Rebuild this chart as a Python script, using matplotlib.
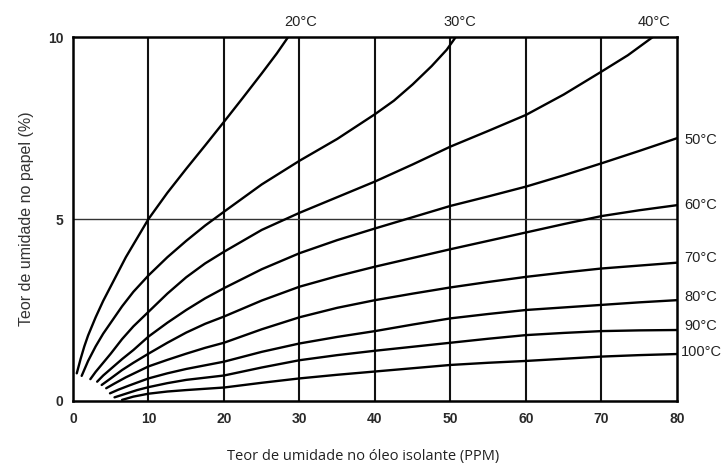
import matplotlib
matplotlib.use("Agg")
import matplotlib.pyplot as plt

# moisture equilibrium curves: oil water content (ppm) vs paper water content (%)
temps = ["20°C", "30°C", "40°C", "50°C", "60°C", "70°C", "80°C", "90°C", "100°C"]

ppm_20 = [0.5, 1, 1.5, 2, 3, 4, 5, 6, 7, 8, 9, 10, 12.5, 15, 17.5, 20, 22.5, 25, 27, 28.5]
pct_20 = [0.76, 1.15, 1.5, 1.8, 2.3, 2.75, 3.15, 3.55, 3.95, 4.3, 4.65, 5.0,
          5.72, 6.38, 7.02, 7.67, 8.33, 9.0, 9.55, 10]

ppm_30 = [1.15, 2, 3, 4, 5, 6.5, 8, 10, 12.5, 15, 17.5, 20, 25, 30, 35, 40, 42.5,
          45, 47.5, 49.5, 50.7]
pct_30 = [0.69, 1.1, 1.5, 1.85, 2.15, 2.6, 3.0, 3.45, 3.95, 4.4, 4.82, 5.2,
          5.95, 6.6, 7.2, 7.88, 8.25, 8.7, 9.2, 9.65, 10]

ppm_40 = [2.3, 3, 4, 5, 6.5, 8, 10, 12.5, 15, 17.5, 20, 25, 30, 35, 40, 45, 50,
          55, 60, 65, 70, 73.5, 76.8]
pct_40 = [0.6, 0.8, 1.05, 1.3, 1.7, 2.05, 2.45, 2.95, 3.4, 3.78, 4.1, 4.7, 5.17,
          5.6, 6.03, 6.5, 6.99, 7.42, 7.86, 8.42, 9.05, 9.5, 10]

ppm_50 = [3.2, 4, 5, 6.5, 8, 10, 12.5, 15, 17.5, 20, 25, 30, 35, 40, 45, 50, 55,
          60, 65, 70, 75, 80]
pct_50 = [0.53, 0.7, 0.88, 1.15, 1.4, 1.77, 2.15, 2.5, 2.82, 3.1, 3.62, 4.06,
          4.42, 4.74, 5.05, 5.36, 5.62, 5.89, 6.2, 6.53, 6.87, 7.22]

ppm_60 = [3.8, 5, 6.5, 8, 10, 12.5, 15, 17.5, 20, 25, 30, 35, 40, 45, 50, 55, 60,
          65, 70, 75, 80]
pct_60 = [0.44, 0.62, 0.85, 1.05, 1.3, 1.6, 1.88, 2.12, 2.32, 2.76, 3.14, 3.43,
          3.69, 3.93, 4.17, 4.4, 4.63, 4.86, 5.08, 5.24, 5.38]

ppm_70 = [4.4, 5.5, 7, 8.5, 10, 12.5, 15, 17.5, 20, 25, 30, 35, 40, 45, 50, 55,
          60, 65, 70, 75, 80]
pct_70 = [0.35, 0.48, 0.65, 0.8, 0.95, 1.13, 1.3, 1.46, 1.6, 1.97, 2.3, 2.56,
          2.77, 2.95, 3.12, 3.27, 3.41, 3.53, 3.64, 3.72, 3.8]

ppm_80 = [4.9, 6, 7.5, 10, 12.5, 15, 17.5, 20, 25, 30, 35, 40, 45, 50, 55, 60,
          65, 70, 75, 80]
pct_80 = [0.21, 0.31, 0.43, 0.62, 0.76, 0.88, 0.98, 1.08, 1.35, 1.58, 1.76, 1.92,
          2.1, 2.27, 2.39, 2.5, 2.57, 2.64, 2.71, 2.77]

ppm_90 = [5.5, 7, 8.5, 10, 12.5, 15, 17.5, 20, 25, 30, 35, 40, 45, 50, 55, 60,
          65, 70, 75, 80]
pct_90 = [0.1, 0.2, 0.3, 0.38, 0.49, 0.58, 0.64, 0.7, 0.92, 1.12, 1.26, 1.38,
          1.49, 1.6, 1.71, 1.81, 1.87, 1.92, 1.94, 1.95]

ppm_100 = [6.5, 8, 10, 12.5, 15, 20, 25, 30, 35, 40, 45, 50, 55, 60, 65, 70, 75, 80]
pct_100 = [0.03, 0.12, 0.2, 0.26, 0.3, 0.37, 0.5, 0.62, 0.72, 0.81, 0.9, 0.99,
           1.05, 1.1, 1.16, 1.22, 1.26, 1.29]

curves = [(ppm_20, pct_20), (ppm_30, pct_30), (ppm_40, pct_40),
          (ppm_50, pct_50), (ppm_60, pct_60), (ppm_70, pct_70),
          (ppm_80, pct_80), (ppm_90, pct_90), (ppm_100, pct_100)]

x_ticks = [0, 10, 20, 30, 40, 50, 60, 70, 80]
y_ticks = [0, 5, 10]

fig = plt.figure(figsize=(7.27, 4.68), dpi=100)
ax = fig.add_axes([0.1004, 0.1432, 0.8308, 0.7777])

# grid: verticals every 10 ppm, one horizontal at 5 %
for xv in x_ticks[1:-1]:
    ax.axvline(xv, color="#111111", lw=1.5, zorder=1)
ax.axhline(5, color="#333333", lw=1.0, zorder=1)

for xs, ys in curves:
    ax.plot(xs, ys, color="black", lw=1.7, solid_capstyle="round",
            solid_joinstyle="round", zorder=3)

ax.set_xlim(0, 80)
ax.set_ylim(0, 10)
ax.set_xticks(x_ticks)
ax.set_yticks(y_ticks)
ax.tick_params(length=0, labelsize=10, labelcolor="#2a2a2a")
ax.tick_params(axis="x", pad=8)
ax.tick_params(axis="y", pad=7)
for lab in ax.get_xticklabels() + ax.get_yticklabels():
    lab.set_family("Liberation Sans")
    lab.set_fontweight("bold")
for s in ax.spines.values():
    s.set_linewidth(1.8)
    s.set_color("black")

# temperature labels: three above the frame, the rest at the right end
lbl = dict(fontsize=10.5, family="Liberation Sans", color="#222222")
ax.text(30.1, 10.22, temps[0], ha="center", va="bottom", **lbl)
ax.text(51.3, 10.22, temps[1], ha="center", va="bottom", **lbl)
ax.text(77.0, 10.22, temps[2], ha="center", va="bottom", **lbl)
right_y = [7.17, 5.38, 3.93, 2.86, 2.06, 1.35]
for t, yv in zip(temps[3:], right_y):
    ax.text(81.0 if t != "100°C" else 80.5, yv, t, ha="left", va="center",
            clip_on=False, **lbl)

ax.set_ylabel("Teor de umidade no papel (%)", family="Liberation Sans",
              fontsize=11.5, color="#333333", labelpad=10)
fig.text(0.5, 0.018, "Teor de umidade no óleo isolante (PPM)", ha="center",
         family="Open Sans", fontsize=10.5, color="#222222")

plt.savefig("out.png", dpi=100)
